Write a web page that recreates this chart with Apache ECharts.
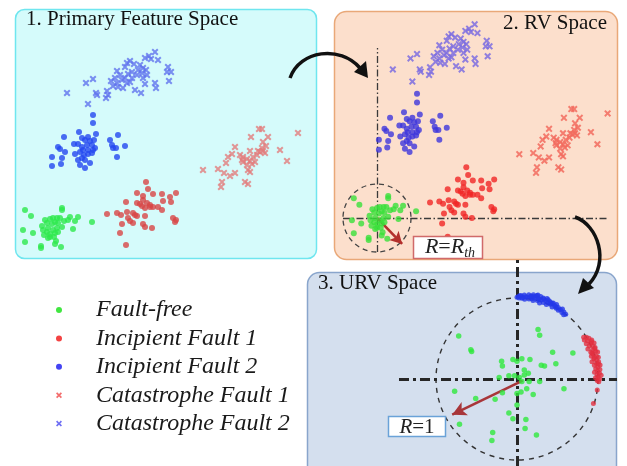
<!DOCTYPE html>
<html><head><meta charset="utf-8">
<script src="https://cdn.jsdelivr.net/npm/echarts@6/dist/echarts.min.js"></script>
<style>html,body{margin:0;padding:0;background:#fff}#c{width:627px;height:466px}</style>
</head><body><div id="c"></div>
<script>
// ---------- DATA ----------
const classNames = ['Fault-free','Incipient Fault 1','Incipient Fault 2','Catastrophe Fault 1','Catastrophe Fault 2'];
const panelTitles = ['1. Primary Feature Space','2. RV Space','3. URV Space'];

// primary feature space (also plotted as residual vectors in panel 2, origin = fault-free centre)
const ffFeat = [[10,48],[16,42],[47,50],[47,48],[77,36],[8,28],[18,25],[10,16],[26,12],[26,10],[41,17],[40,14],[46,11],[33,20],[35,21],[58,29],[60,37],[63,41],[55,41],[53,38],[49,37],[45,40],[42,40],[38,40],[35,39],[30,38],[32,35],[27,32],[28,28],[33,30],[37,34],[40,36],[43,35],[47,31],[42,30],[38,28],[40,25],[43,26],[32,26],[35,24],[39,21],[29,23]];
const if1Feat = [[131,76],[133,69],[138,64],[122,65],[128,62],[147,64],[155,61],[161,65],[156,56],[148,57],[111,56],[122,55],[128,58],[132,55],[135,53],[138,51],[143,51],[147,48],[130,50],[127,52],[92,44],[102,45],[106,43],[112,46],[118,45],[120,43],[113,40],[115,37],[118,35],[122,42],[130,42],[158,40],[161,38],[160,36],[107,34],[128,34],[130,31],[137,30],[105,25],[111,13],[135,51],[125,54]];
const if2Feat = [[78,143],[78,135],[64,126],[73,121],[81,124],[49,121],[70,118],[67,120],[75,117],[79,118],[59,114],[63,114],[67,111],[72,113],[77,113],[80,110],[43,111],[45,109],[50,106],[65,106],[68,108],[73,108],[78,108],[60,104],[69,103],[73,104],[77,105],[37,101],[47,100],[67,100],[70,98],[65,93],[70,90],[75,95],[37,92],[46,94],[95,118],[103,123],[97,113],[98,110],[101,110],[110,112],[102,101],[63,98]];
const cf1Feat = [[244,129],[247,129],[283,125],[236,121],[253,121],[248,116],[251,112],[220,111],[265,108],[272,97],[235,107],[217,104],[213,101],[211,95],[225,103],[228,101],[232,99],[235,97],[238,101],[242,103],[245,106],[248,107],[250,105],[240,96],[237,94],[232,93],[228,96],[233,88],[235,86],[188,88],[203,89],[209,85],[215,82],[220,85],[207,76],[206,71],[230,76],[233,74],[243,107],[247,110],[227,98]];
const cf2Feat = [[140,206],[134,202],[130,200],[136,199],[143,198],[153,191],[152,186],[156,186],[154,177],[115,197],[112,195],[110,191],[119,194],[125,193],[128,190],[131,188],[123,188],[127,185],[122,183],[117,186],[113,184],[110,180],[105,183],[102,187],[100,180],[107,178],[102,175],[98,172],[96,177],[112,175],[115,176],[103,171],[108,170],[120,168],[126,165],[130,174],[140,175],[141,170],[78,179],[71,175],[52,165],[81,165],[82,163],[92,167],[93,163],[91,160],[73,154],[117,180],[132,183],[128,180]];
const rvOrigin = [35,30];          // fault-free centre in feature units
const rvArrowEnd = [62,6.4];       // R = R_th

// unified residual vectors (panel 3)
const ffURV = [[-0.72,0.53],[-0.57,0.36],[-0.56,0.34],[0.26,0.61],[0.28,0.54],[0.44,0.33],[0.69,0.32],[-0.19,0.22],[-0.18,0.16],[-0.05,0.24],[0,0.22],[0.06,0.25],[0.16,0.24],[0.3,0.17],[0.34,0.16],[0.48,0.19],[0.09,0.11],[0.14,0.07],[0.09,0.05],[0.03,0.02],[-0.03,0.04],[-0.1,0.04],[-0.22,0.02],[0.06,-0.03],[0.15,-0.03],[0.28,-0.03],[0.12,-0.12],[0.05,-0.16],[0,-0.18],[0.2,-0.19],[0.58,-0.12],[-0.77,-0.15],[-0.51,-0.24],[-0.27,-0.25],[-0.18,-0.17],[0,-0.32],[-0.1,-0.42],[-0.05,-0.49],[0.11,-0.5],[0.1,-0.61],[-0.71,-0.56],[-0.3,-0.66],[-0.31,-0.76],[0.24,-0.69]];
// [radius, angle in degrees]
const if2URV = [[1.01,90],[1.02,89],[1.0,88.5],[1.03,87],[1.01,86],[1.04,85],[0.99,84.5],[1.02,83],[1.05,82],[1.0,81.5],[1.03,80],[1.06,79],[0.99,78.5],[1.02,78],[1.05,77],[1.07,76],[1.0,75.5],[1.03,75],[1.06,74],[0.98,73.5],[1.02,73],[1.05,72],[1.0,71],[1.03,70],[1.06,69.5],[0.99,68.5],[1.02,68],[1.04,67],[1.01,66],[1.03,65],[0.99,64],[1.02,63],[1.04,62],[1.0,61],[1.02,60],[0.99,59],[1.01,58],[1.03,57],[0.99,56],[1.01,55],[0.98,54],[1.0,53],[1.04,71.5],[1.01,79.5],[1.04,64.5],[1.06,76.5],[1.04,78.5],[1.02,74.5],[1.05,68.5],[1.03,66],[1.01,61.5],[1.04,80.5],[1.02,84],[1.0,86.5],[1.03,88]];
const if1URV = [[0.97,32],[1.0,31],[0.96,30],[1.02,29.5],[0.99,28.5],[1.04,27.5],[0.96,27],[1.01,26],[1.05,25],[0.98,24.5],[1.02,23.5],[0.95,23],[1.04,22],[1.0,21],[0.97,20],[1.03,19.5],[1.05,18.5],[0.99,18],[0.96,17],[1.02,16],[1.04,15],[0.98,14.5],[1.01,13.5],[0.95,13],[1.03,12],[1.0,11],[0.97,10],[1.04,9.5],[1.01,8.5],[0.98,7.5],[1.03,6.5],[1.0,5.5],[0.96,5],[1.02,4],[0.99,3],[1.04,2.5],[1.0,1.5],[0.97,1],[1.02,0],[0.99,-1],[1.01,-2],[1.0,-7.8],[0.99,-17.7],[1.03,21.5],[0.98,19],[1.02,10.5],[0.99,15.5],[1.03,26.5]];
const urvArrowEnd = [-0.8,-0.44];  // R = 1

// ---------- CHART ----------
const SERIF = '"Liberation Serif","Times New Roman",serif';
const XSYM = 'path://M0,2L2,0L5,3L8,0L10,2L7,5L10,8L8,10L5,7L2,10L0,8L3,5Z';
const hidden = {show:false};
function xa(i,min,max){return {gridIndex:i,type:'value',min:min,max:max,show:false};}

const chart = echarts.init(document.getElementById('c'), null, {renderer:'canvas'});

function sc(name, data, color, sym, size, xi, extra){
  return Object.assign({type:'scatter', name:name, data:data, xAxisIndex:xi, yAxisIndex:xi,
    symbol:sym, symbolSize:size, itemStyle:{color:color}, silent:true, z:5}, extra||{});
}
const dashDot2 = {color:'#3a3a3a', width:1.3, type:[7,2.5,1.5,2.5]};
const dashDot3 = {color:'#262626', width:3, type:[10,4,3,4]};
const titleStyle = {fontFamily:SERIF, fontSize:21, fontWeight:'normal', color:'#111'};

const option = {
  animation:false,
  backgroundColor:'#ffffff',
  title: [
    {text:panelTitles[0], left:26, top:9, padding:0, textStyle:titleStyle},
    {text:panelTitles[1], right:20, top:13, padding:0, textStyle:titleStyle},
    {text:panelTitles[2], left:318, top:273, padding:0, textStyle:titleStyle}
  ],
  legend: {
    orient:'vertical', left:56, top:298, padding:0, itemGap:4.4, itemWidth:6, itemHeight:6,
    selectedMode:false,
    textStyle:{fontFamily:SERIF, fontStyle:'italic', fontSize:24, color:'#1a1a1a', padding:[0,0,0,29]},
    data:[
      {name:classNames[0], icon:'circle', itemStyle:{color:'#12e012'}},
      {name:classNames[1], icon:'circle', itemStyle:{color:'#f01414'}},
      {name:classNames[2], icon:'circle', itemStyle:{color:'#1414f0'}},
      {name:classNames[3], icon:XSYM, itemStyle:{color:'#f04848'}},
      {name:classNames[4], icon:XSYM, itemStyle:{color:'#4848f0'}}
    ]
  },
  grid: [
    {left:15, top:10, width:302, height:248},
    {left:335, top:12, width:281, height:246},
    {left:307, top:250, width:310, height:216}
  ],
  xAxis: [xa(0,0,302), xa(1,-10.2,292), xa(2,-2.593,1.235)],
  yAxis: [xa(0,0,248), xa(1,-6.4,217.2), xa(2,-1.074,1.593)],
  polar: [
    {center:[377,218], radius:34},
    {center:[517,379], radius:81},
    {center:[517,379], radius:97.2}
  ],
  angleAxis: [
    {polarIndex:0, type:'value', min:0, max:360, startAngle:0, clockwise:false,
     axisLine:{lineStyle:{color:'#444', width:1.3, type:[5,4]}}, axisTick:hidden, axisLabel:hidden, splitLine:hidden},
    {polarIndex:1, type:'value', min:0, max:360, startAngle:0, clockwise:false,
     axisLine:{lineStyle:{color:'#333', width:1.4, type:[5,5]}}, axisTick:hidden, axisLabel:hidden, splitLine:hidden},
    {polarIndex:2, type:'value', min:0, max:360, startAngle:0, clockwise:false,
     axisLine:hidden, axisTick:hidden, axisLabel:hidden, splitLine:hidden}
  ],
  radiusAxis: [
    {polarIndex:0, min:0, max:1, axisLine:hidden, axisTick:hidden, axisLabel:hidden, splitLine:hidden},
    {polarIndex:1, min:0, max:1, axisLine:hidden, axisTick:hidden, axisLabel:hidden, splitLine:hidden},
    {polarIndex:2, min:0, max:1.2, axisLine:hidden, axisTick:hidden, axisLabel:hidden, splitLine:hidden}
  ],
  series: [
    // panel 1
    sc(classNames[0], ffFeat, '#2de84c', 'circle', 6, 0),
    sc(classNames[1], if1Feat, '#d84646', 'circle', 6, 0),
    sc(classNames[2], if2Feat, '#2347f0', 'circle', 6, 0),
    sc(classNames[3], cf1Feat, '#e27c7c', XSYM, 7, 0, {itemStyle:{color:'#e27c7c', opacity:0.8}}),
    sc(classNames[4], cf2Feat, '#5f72ee', XSYM, 7, 0, {itemStyle:{color:'#5f72ee', opacity:0.8}}),
    // panel 2
    sc(classNames[0], ffFeat, '#38e03a', 'circle', 6, 1, {
      markLine:{silent:true, animation:false, label:hidden, symbol:'none', z:4,
        data:[
          [{coord:[rvOrigin[0],-0.9], lineStyle:dashDot2}, {coord:[rvOrigin[0],184.5]}],
          [{coord:[-1.6,rvOrigin[1]], lineStyle:dashDot2}, {coord:[282,rvOrigin[1]]}],
          [{coord:rvOrigin, symbol:'none', lineStyle:{color:'#b3302c', width:2.6, type:'solid'}},
           {coord:rvArrowEnd, symbol:'arrow', symbolSize:[10,12]}]
        ]}}),
    sc(classNames[1], if1Feat, '#f02626', 'circle', 6, 1),
    sc(classNames[2], if2Feat, '#3d36dc', 'circle', 6, 1),
    sc(classNames[3], cf1Feat, '#f26b5e', XSYM, 7, 1, {itemStyle:{color:'#f26b5e', opacity:0.85}}),
    sc(classNames[4], cf2Feat, '#7d6de0', XSYM, 7, 1, {itemStyle:{color:'#7d6de0', opacity:0.85}}),
    // panel 3
    sc(classNames[0], ffURV, '#2ee83c', 'circle', 5.5, 2, {
      markLine:{silent:true, animation:false, label:hidden, symbol:'none', z:4,
        data:[
          [{coord:[0,-1.074], lineStyle:dashDot3}, {coord:[0,1.52]}],
          [{coord:[-1.457,0], lineStyle:dashDot3}, {coord:[1.235,0]}],
          [{coord:[0.07,-0.02], symbol:'none', lineStyle:{color:'#a8363a', width:2.6, type:'solid'}},
           {coord:urvArrowEnd, symbol:'arrow', symbolSize:[11,14]}]
        ]}}),
    {type:'scatter', name:classNames[2], coordinateSystem:'polar', polarIndex:2, data:if2URV,
     symbol:'circle', symbolSize:5, itemStyle:{color:'#2438e8', opacity:0.8}, silent:true, z:6},
    {type:'scatter', name:classNames[1], coordinateSystem:'polar', polarIndex:2, data:if1URV,
     symbol:'circle', symbolSize:5, itemStyle:{color:'#e23040', opacity:0.8}, silent:true, z:6}
  ],
  graphic: [
    {type:'rect', z:-10, shape:{x:15.5,y:9.5,width:301,height:249,r:9}, style:{fill:'#d5fbfb', stroke:'#6fe6ef', lineWidth:1.5}},
    {type:'rect', z:-10, shape:{x:334.5,y:11.5,width:283,height:248,r:12}, style:{fill:'#fcdfcc', stroke:'#e9a878', lineWidth:1.5}},
    {type:'rect', z:-9, shape:{x:307.5,y:272.5,width:309,height:205,r:12}, style:{fill:'#d4dfee', stroke:'#89a5cc', lineWidth:1.5}},
    // flow arrows
    {type:'bezierCurve', z:20, shape:{x1:290,y1:78,cpx1:300,cpy1:50,cpx2:340,cpy2:45,x2:360,y2:68}, style:{stroke:'#111', lineWidth:3.5, fill:null}},
    {type:'polygon', z:20, shape:{points:[[368,78],[354,72],[366,61]]}, style:{fill:'#111'}},
    {type:'bezierCurve', z:20, shape:{x1:575,y1:217,cpx1:598,cpy1:225,cpx2:610,cpy2:262,x2:589,y2:284}, style:{stroke:'#111', lineWidth:3.5, fill:null}},
    {type:'polygon', z:20, shape:{points:[[578,294],[594,288],[583,278]]}, style:{fill:'#111'}},
    // labels
    {type:'rect', z:30, shape:{x:413.5,y:236.5,width:69,height:22}, style:{fill:'#fff', stroke:'#d06a6a', lineWidth:1.5}},
    {type:'text', z:31, style:{x:450, y:247, align:'center', verticalAlign:'middle',
      text:'{i|R}{n|=}{i|R}{s|th}',
      rich:{i:{fontFamily:SERIF, fontStyle:'italic', fontSize:22, fill:'#222'},
            n:{fontFamily:SERIF, fontSize:22, fill:'#222'},
            s:{fontFamily:SERIF, fontStyle:'italic', fontSize:14, fill:'#222', padding:[13,0,0,0]}}}},
    {type:'rect', z:30, shape:{x:388.5,y:416.5,width:57,height:20}, style:{fill:'#fff', stroke:'#6aa2d8', lineWidth:1.5}},
    {type:'text', z:31, style:{x:417, y:427, align:'center', verticalAlign:'middle',
      text:'{i|R}{n|=1}',
      rich:{i:{fontFamily:SERIF, fontStyle:'italic', fontSize:21, fill:'#222'},
            n:{fontFamily:SERIF, fontSize:21, fill:'#222'}}}}
  ]
};
chart.setOption(option);
</script></body></html>
